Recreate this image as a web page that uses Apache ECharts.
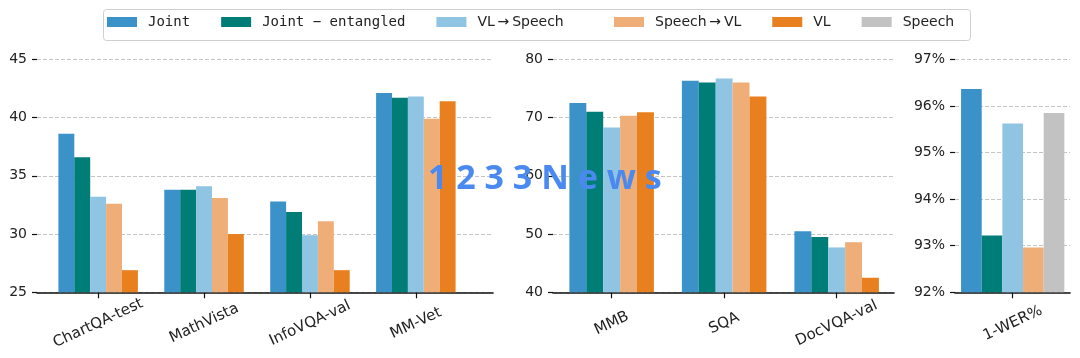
<!DOCTYPE html>
<html><head><meta charset="utf-8">
<script src="https://cdn.jsdelivr.net/npm/echarts@6/dist/echarts.min.js"></script>
<style>html,body{margin:0;padding:0;background:#fff}#c{width:1080px;height:358px}</style>
</head><body><div id="c"></div>
<script>
// ---- data ----
const seriesNames = ['Joint', 'Joint − entangled', 'VL\u2009→\u2009Speech', 'Speech\u2009→\u2009VL', 'VL', 'Speech'];
const seriesColors = ['#3a92c9', '#017d77', '#8fc4e3', '#efae77', '#e9801f', '#c2c2c2'];

const cats1 = ['ChartQA-test', 'MathVista', 'InfoVQA-val', 'MM-Vet'];
const joint1    = [38.6, 33.8, 32.8, 42.1];
const jointEnt1 = [36.6, 33.8, 31.9, 41.7];
const vlSpeech1 = [33.2, 34.1, 29.9, 41.8];
const speechVl1 = [32.6, 33.1, 31.1, 39.9];
const vl1       = [26.9, 30.0, 26.9, 41.4];

const cats2 = ['MMB', 'SQA', 'DocVQA-val'];
const joint2    = [72.5, 76.3, 50.5];
const jointEnt2 = [71.0, 76.0, 49.5];
const vlSpeech2 = [68.3, 76.7, 47.7];
const speechVl2 = [70.3, 76.0, 48.6];
const vl2       = [70.9, 73.6, 42.5];

const cats3 = ['1-WER%'];
const joint3    = [96.36];
const jointEnt3 = [93.22];
const vlSpeech3 = [95.62];
const speechVl3 = [92.96];
const speech3   = [95.85];

const yTicks1 = {min: 25, max: 45, interval: 5};
const yTicks2 = {min: 40, max: 80, interval: 10};
const yTicks3 = {min: 92, max: 97, interval: 1};

// ---- layout ----
const TOP = 59.3, H = 233;
const panels = [
  {bg: [37, 456], bars: [45.2, 423.6], cats: cats1, y: yTicks1, fmt: '{value}', bw: 15.9,
   series: [[0, joint1], [1, jointEnt1], [2, vlSpeech1], [3, speechVl1], [4, vl1]]},
  {bg: [553, 341], bars: [555.4, 337.5], cats: cats2, y: yTicks2, fmt: '{value}', bw: 16.9,
   series: [[0, joint2], [1, jointEnt2], [2, vlSpeech2], [3, speechVl2], [4, vl2]]},
  {bg: [955, 115], bars: [956.7, 112], cats: cats3, y: yTicks3, fmt: '{value}%', bw: 20.66,
   series: [[0, joint3], [1, jointEnt3], [2, vlSpeech3], [3, speechVl3], [5, speech3]]}
];

const FONT = 'DejaVu Sans';
const grid = [], xAxis = [], yAxis = [], series = [];
panels.forEach((p, i) => {
  const gb = 2 * i, gr = 2 * i + 1;
  grid.push({left: p.bg[0], width: p.bg[1], top: TOP, height: H});
  grid.push({left: p.bars[0], width: p.bars[1], top: TOP, height: H});
  xAxis.push({gridIndex: gb, type: 'value', min: 0, max: 1,
    axisLine: {show: true, lineStyle: {color: '#111', width: 1.6}},
    axisTick: {show: false}, axisLabel: {show: false}, splitLine: {show: false}});
  xAxis.push({gridIndex: gr, type: 'category', data: p.cats, boundaryGap: true,
    axisLine: {show: false},
    axisTick: {show: true, alignWithLabel: true, length: 6, lineStyle: {color: '#111', width: 1.2}},
    axisLabel: {interval: 0, rotate: 25, align: 'center', verticalAlign: 'middle', margin: 31,
      fontFamily: FONT, fontSize: 15, color: '#222'}});
  yAxis.push({gridIndex: gb, type: 'value', min: p.y.min, max: p.y.max, interval: p.y.interval,
    axisLine: {show: false},
    axisTick: {show: true, length: 5, lineStyle: {color: '#111', width: 1.2}},
    axisLabel: {formatter: p.fmt, margin: 10, fontFamily: FONT, fontSize: 14, color: '#222'},
    splitLine: {show: true, lineStyle: {color: '#c4c4c4', width: 1, type: [4, 2]}}});
  yAxis.push({gridIndex: gr, type: 'value', min: p.y.min, max: p.y.max, interval: p.y.interval, show: false,
    splitLine: {show: false}});
  p.series.forEach(([k, data]) => {
    series.push({type: 'bar', name: seriesNames[k], xAxisIndex: gr, yAxisIndex: gr, data: data,
      barWidth: p.bw, barGap: '0%', clip: true, itemStyle: {color: seriesColors[k]}, z: 3});
  });
});

const legendItem = (k) => (k < 2 ? {name: seriesNames[k], textStyle: {fontFamily: 'DejaVu Sans Mono'}} : {name: seriesNames[k]});
const legendBase = {top: 8, padding: [7, 6, 7, 6], itemGap: 31, itemWidth: 30, itemHeight: 10, icon: 'rect',
  textStyle: {fontFamily: FONT, fontSize: 14, color: '#222', padding: [0, 0, 0, 6]}};

const chart = echarts.init(document.getElementById('c'), null, {renderer: 'canvas'});
chart.setOption({
  animation: false,
  color: seriesColors,
  grid, xAxis, yAxis, series,
  legend: [
    Object.assign({left: 101, data: [0, 1, 2].map(legendItem)}, legendBase),
    Object.assign({left: 608, data: [3, 4, 5].map(legendItem)}, legendBase)
  ],
  graphic: [
    {type: 'rect', left: 101, top: 7, z: 0, silent: true,
     shape: {width: 867, height: 31, r: 3}, style: {fill: 'none', stroke: '#cfcfcf', lineWidth: 1}},
    {type: 'text', left: 428, top: 162, z: 100,
     style: {text: '1 2 3 3 N e w s', font: 'bold 34px "Noto Sans"', fill: '#4a8af0'}}
  ]
});
</script></body></html>
